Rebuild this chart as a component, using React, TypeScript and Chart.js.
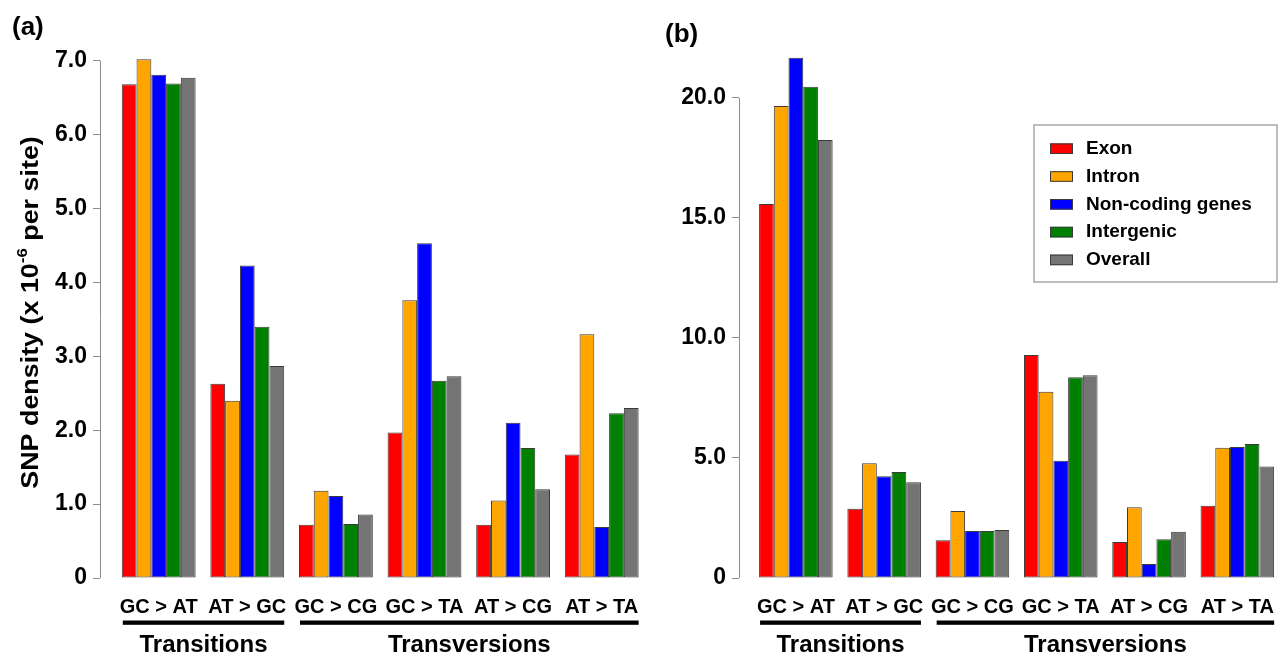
import React, { useEffect, useRef } from "react";
import { Chart, registerables } from "chart.js";

Chart.register(...registerables);

const FONT = "'Liberation Sans', Arial, Helvetica, sans-serif";

const categories = ["GC > AT", "AT > GC", "GC > CG", "GC > TA", "AT > CG", "AT > TA"];
const seriesNames = ["Exon", "Intron", "Non-coding genes", "Intergenic", "Overall"];
const seriesColors = ["#FF0000", "#FFA500", "#0000FF", "#008000", "#747474"];

// Panel (a): SNP density (x 10^-6 per site)
const exonA = [6.68, 2.63, 0.72, 1.97, 0.72, 1.67];
const intronA = [7.02, 2.4, 1.18, 3.76, 1.05, 3.3];
const noncodingA = [6.81, 4.23, 1.11, 4.53, 2.1, 0.69];
const intergenicA = [6.69, 3.4, 0.73, 2.67, 1.76, 2.23];
const overallA = [6.77, 2.87, 0.86, 2.73, 1.2, 2.3];
const ticksA = [0, 1, 2, 3, 4, 5, 6, 7];

// Panel (b)
const exonB = [15.58, 2.88, 1.57, 9.29, 1.5, 3.01];
const intronB = [19.67, 4.78, 2.79, 7.76, 2.95, 5.43];
const noncodingB = [21.68, 4.24, 1.96, 4.89, 0.58, 5.46];
const intergenicB = [20.47, 4.42, 1.96, 8.36, 1.61, 5.58];
const overallB = [18.25, 3.99, 2.0, 8.45, 1.93, 4.65];
const ticksB = [0, 5, 10, 15, 20];

const groupNames = ["Transitions", "Transversions"];
const groupSpans = [
  [0, 1],
  [2, 5],
];

const CAT_PCT = 5 / 6;

function buildDatasets(series: number[][]) {
  return series.map((vals, si) => ({
    label: seriesNames[si],
    data: vals.map((v, i) => ({ x: i, y: v })),
    backgroundColor: seriesColors[si],
    borderColor: "#3a3a3a",
    borderWidth: 1,
    borderSkipped: false as const,
    categoryPercentage: CAT_PCT,
    barPercentage: 1,
  }));
}

const axisLinePlugin = {
  id: "axisLine",
  afterDraw(chart: any) {
    const { ctx, chartArea } = chart;
    const y = chart.scales.y;
    const ticks = y.ticks;
    const top = y.getPixelForValue(ticks[ticks.length - 1].value);
    const bot = y.getPixelForValue(ticks[0].value);
    ctx.save();
    ctx.strokeStyle = "#8c8c8c";
    ctx.lineWidth = 1;
    ctx.beginPath();
    ctx.moveTo(chartArea.left + 0.5, top);
    ctx.lineTo(chartArea.left + 0.5, bot);
    ctx.stroke();
    ctx.restore();
  },
};

const groupPlugin = {
  id: "groups",
  afterDraw(chart: any) {
    const { ctx, chartArea } = chart;
    const x = chart.scales.x;
    const half = ((x.getPixelForValue(1) - x.getPixelForValue(0)) * CAT_PCT) / 2;
    ctx.save();
    ctx.fillStyle = "#000";
    ctx.font = `bold 24px ${FONT}`;
    ctx.textAlign = "center";
    ctx.textBaseline = "middle";
    groupSpans.forEach(([a, b], gi) => {
      const x1 = x.getPixelForValue(a) - half + 1;
      const x2 = x.getPixelForValue(b) + half;
      ctx.fillRect(x1, chartArea.bottom + 42.5, x2 - x1, 4.3);
      ctx.fillText(groupNames[gi], (x1 + x2) / 2, chartArea.bottom + 67);
    });
    ctx.restore();
  },
};

const yTitlePlugin = {
  id: "yTitle",
  afterDraw(chart: any) {
    const { ctx, chartArea } = chart;
    const cx = chartArea.left - 69;
    const cy = (chartArea.top + chartArea.bottom) / 2 - 5;
    const parts: [string, string, number][] = [
      ["SNP density (x 10", `bold 24px ${FONT}`, 0],
      ["-6", `bold 15px ${FONT}`, -8],
      [" per site)", `bold 24px ${FONT}`, 0],
    ];
    ctx.save();
    ctx.translate(cx, cy);
    ctx.rotate(-Math.PI / 2);
    ctx.scale(1.12, 1);
    ctx.fillStyle = "#000";
    ctx.textBaseline = "middle";
    ctx.textAlign = "left";
    let total = 0;
    parts.forEach(([t, f]) => {
      ctx.font = f;
      total += ctx.measureText(t).width;
    });
    let px = -total / 2;
    parts.forEach(([t, f, dy]) => {
      ctx.font = f;
      ctx.fillText(t, px, dy);
      px += ctx.measureText(t).width;
    });
    ctx.restore();
  },
};

const legendPlugin = {
  id: "boxLegend",
  afterDraw(chart: any) {
    const { ctx, chartArea } = chart;
    const w = 243;
    const h = 157;
    const left = chartArea.right - 6 - w;
    const top = 125;
    ctx.save();
    ctx.strokeStyle = "#a8a8a8";
    ctx.lineWidth = 1.5;
    ctx.strokeRect(left, top, w, h);
    ctx.font = `bold 19px ${FONT}`;
    ctx.textBaseline = "middle";
    ctx.textAlign = "left";
    chart.data.datasets.forEach((ds: any, i: number) => {
      const cy = top + 23.7 + i * 27.8;
      ctx.fillStyle = ds.backgroundColor;
      ctx.fillRect(left + 16, cy - 5.3, 23, 10.6);
      ctx.strokeStyle = "#3a3a3a";
      ctx.lineWidth = 1;
      ctx.strokeRect(left + 16.5, cy - 4.8, 22, 9.6);
      ctx.fillStyle = "#000";
      ctx.fillText(ds.label, left + 52, cy);
    });
    ctx.restore();
  },
};

function makeConfig(
  series: number[][],
  yTicks: number[],
  yMax: number,
  xMin: number,
  xMax: number,
  padTop: number,
  yWidth: number,
  extraPlugins: any[]
) {
  return {
    type: "bar" as const,
    data: { datasets: buildDatasets(series) },
    options: {
      animation: false as const,
      responsive: false,
      maintainAspectRatio: false,
      layout: { padding: { top: padTop, left: 0, right: 0, bottom: 0 } },
      plugins: {
        legend: { display: false },
        tooltip: { enabled: false },
        title: { display: false },
      },
      scales: {
        x: {
          type: "linear" as const,
          offset: false,
          min: xMin,
          max: xMax,
          grid: { display: false, drawTicks: false, offset: false },
          border: { display: false },
          ticks: {
            autoSkip: false,
            maxRotation: 0,
            minRotation: 0,
            padding: 17,
            color: "#000",
            font: { family: FONT, size: 20, weight: "bold" as const },
            callback: (v: any) => categories[Math.round(v)] ?? "",
          },
          afterBuildTicks: (s: any) => {
            s.ticks = categories.map((_, i) => ({ value: i }));
          },
          afterFit: (s: any) => {
            s.height = 88;
            s.paddingLeft = 0;
            s.paddingRight = 0;
          },
        },
        y: {
          type: "linear" as const,
          min: 0,
          max: yMax,
          grid: {
            display: true,
            drawOnChartArea: false,
            drawTicks: true,
            tickLength: 7,
            color: "#8c8c8c",
          },
          border: { display: false },
          ticks: {
            padding: 6,
            color: "#000",
            font: { family: FONT, size: 23, weight: "bold" as const },
            callback: (v: any) => (v === 0 ? "0" : Number(v).toFixed(1)),
          },
          afterBuildTicks: (s: any) => {
            s.ticks = yTicks.map((v) => ({ value: v }));
          },
          afterFit: (s: any) => {
            s.width = yWidth;
            s.paddingTop = 0;
            s.paddingBottom = 0;
          },
        },
      },
    },
    plugins: [axisLinePlugin, groupPlugin, ...extraPlugins],
  };
}

function Panel(props: { left: number; width: number; config: any }) {
  const ref = useRef<HTMLCanvasElement | null>(null);
  useEffect(() => {
    if (!ref.current) return;
    const chart = new Chart(ref.current, props.config);
    return () => chart.destroy();
  }, []);
  return (
    <canvas
      ref={ref}
      width={props.width}
      height={666}
      style={{
        position: "absolute",
        left: props.left,
        top: 0,
        width: props.width,
        height: 666,
      }}
    />
  );
}

export default function App() {
  const configA = makeConfig(
    [exonA, intronA, noncodingA, intergenicA, overallA],
    ticksA,
    7.05,
    -0.6625,
    5.545,
    57,
    100,
    [yTitlePlugin]
  );
  const configB = makeConfig(
    [exonB, intronB, noncodingB, intergenicB, overallB],
    ticksB,
    21.79,
    -0.644,
    5.517,
    55,
    99,
    [legendPlugin]
  );
  const labelStyle: React.CSSProperties = {
    position: "absolute",
    fontFamily: FONT,
    fontWeight: "bold",
    fontSize: 26,
    lineHeight: "26px",
    color: "#000",
  };
  return (
    <div
      style={{
        position: "absolute",
        left: 0,
        top: 0,
        width: 1283,
        height: 666,
        background: "#fff",
        overflow: "hidden",
      }}
    >
      <Panel left={0} width={650} config={configA} />
      <Panel left={640} width={643} config={configB} />
      <div style={{ ...labelStyle, left: 12, top: 13 }}>(a)</div>
      <div style={{ ...labelStyle, left: 665, top: 20 }}>(b)</div>
    </div>
  );
}
